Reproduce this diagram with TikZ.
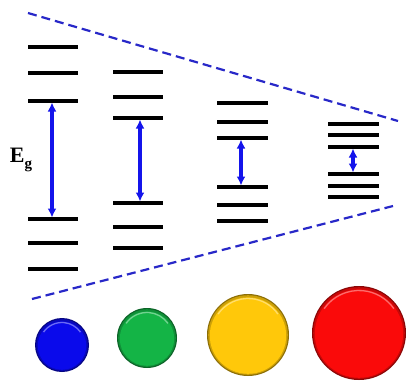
\documentclass[tikz,border=0pt]{standalone}
\usepackage{fontspec}
\setmainfont{Liberation Serif}
\usetikzlibrary{arrows.meta}
\definecolor{arrblue}{RGB}{20,20,235}
\definecolor{dashblue}{RGB}{40,40,200}
\definecolor{cblue}{RGB}{10,10,235}
\definecolor{cgreen}{RGB}{20,180,70}
\definecolor{cyellow}{RGB}{255,200,10}
\definecolor{cred}{RGB}{250,10,10}
\tikzset{
  level/.style={line width=3.2pt, black},
  gap/.style={arrblue, line width=3.2pt, {Latex[length=9pt,width=9pt]}-{Latex[length=9pt,width=9pt]}, shorten <=1.5pt, shorten >=1.5pt},
  bound/.style={dashblue, line width=2.2pt, dash pattern=on 9pt off 5pt},
}
\newcommand{\dotball}[4]{% x,y,r,color
  \fill[#4!55!black] (#1,#2) circle (#3);
  \fill[#4!80!black] (#1,#2) circle (#3-1.2);
  \fill[#4] (#1,#2+0.6) circle (#3-2.8);
  \draw[white, opacity=0.4, line width=1.3pt] ([shift={(215:#3-4.5)}]#1,#2) arc (215:325:#3-4.5);
}
\begin{document}
\begin{tikzpicture}[x=1pt,y=-1pt]
\useasboundingbox (0,0) rectangle (406,385);
% column 1
\foreach \y in {47,73,101,219,243,269} \draw[level] (28,\y) -- (78,\y);
% column 2
\foreach \y in {72,97,118,203,227,248} \draw[level] (113,\y) -- (163,\y);
% column 3
\foreach \y in {103,122,138,187,205,221} \draw[level] (217,\y) -- (268,\y);
% column 4
\foreach \y in {124,135,147,174,186,197} \draw[level] (328,\y) -- (379,\y);
% gap arrows
\coordinate (c1t) at (52,101); \coordinate (c1b) at (52,219);
\coordinate (c2t) at (140,118); \coordinate (c2b) at (140,203);
\coordinate (c3t) at (241,138); \coordinate (c3b) at (241,187);
\coordinate (c4t) at (353,147); \coordinate (c4b) at (353,174);
\draw[gap] (c1t) -- (c1b);
\draw[gap] (c2t) -- (c2b);
\draw[gap] (c3t) -- (c3b);
\draw[gap] (c4t) -- (c4b);
% label
\node[font=\fontsize{22}{24}\selectfont\bfseries, inner sep=0pt] (eg) at (21,160) {E\raisebox{-0.3em}{\fontsize{15}{16}\selectfont g}};
% dashed boundaries
\coordinate (t1) at (28,13); \coordinate (t2) at (398,121);
\coordinate (b1) at (32,299); \coordinate (b2) at (393,206);
\draw[bound] (t1) -- (t2);
\draw[bound] (b1) -- (b2);
% spheres
\dotball{62}{345}{27}{cblue}
\dotball{147}{338}{30}{cgreen}
\dotball{248}{335}{41}{cyellow}
\dotball{359}{333}{47}{cred}
\end{tikzpicture}
\end{document}
